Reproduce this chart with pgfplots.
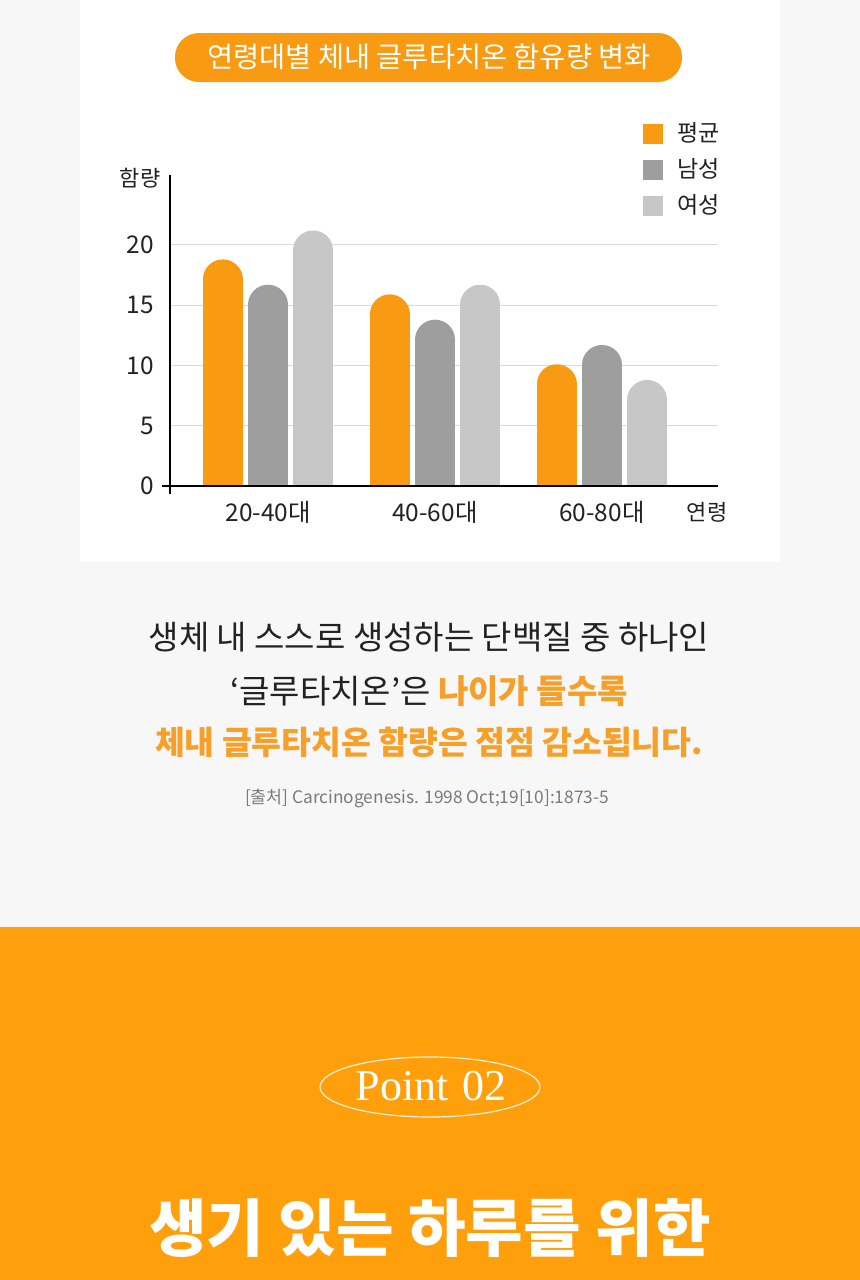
\documentclass[border=0pt]{standalone}
\usepackage{fontspec}
\setmainfont{Noto Sans CJK KR}
\newfontfamily\pointfont{Liberation Serif}
\usepackage{pgfplots}
\pgfplotsset{compat=1.18}
\usepackage{pgfplotstable}
\definecolor{bggray}{HTML}{F7F7F7}
\definecolor{barorange}{HTML}{F89A12}
\definecolor{bargray}{HTML}{9E9E9E}
\definecolor{barlight}{HTML}{C7C7C7}
\definecolor{gridgray}{HTML}{DADADA}
\definecolor{secorange}{HTML}{FF9F0B}
\definecolor{txtorange}{HTML}{F6A02A}
\definecolor{txtdark}{HTML}{222222}
\definecolor{citegray}{HTML}{7A7A7A}

\pgfplotstableread{
g v
0 18.8
1 15.9
2 10.1
}\avgdata
\pgfplotstableread{
g v
0 16.7
1 13.8
2 11.7
}\maledata
\pgfplotstableread{
g v
0 21.2
1 16.7
2 8.8
}\femaledata

\begin{document}
\begin{tikzpicture}
\begin{scope}[x=0.5pt,y=-0.5pt]
  \fill[bggray] (0,0) rectangle (860,1280);
  \fill[white] (80,0) rectangle (780,562);
  \fill[barorange, rounded corners=12pt] (175,33) rectangle (682,82);
  \node[text=white, font=\fontsize{14.2pt}{16pt}\selectfont] at (429,57) {연령대별 체내 글루타치온 함유량 변화};
  \node[text=txtdark, font=\fontsize{11pt}{13pt}\selectfont] at (140,178) {함량};
  \node[text=txtdark, font=\fontsize{11pt}{13pt}\selectfont] at (707,512) {연령};
  % body text
  \node[text=txtdark, font=\fontsize{16.5pt}{19pt}\selectfont] at (429,637) {생체 내 스스로 생성하는 단백질 중 하나인};
  \node[text=txtdark, font=\fontsize{16.5pt}{19pt}\selectfont] at (429,691) {‘글루타치온’은 {\bfseries\color{txtorange}나이가 들수록}};
  \node[text=txtorange, font=\bfseries\fontsize{16.2pt}{19pt}\selectfont] at (429,742) {체내 글루타치온 함량은 점점 감소됩니다.};
  \node[text=citegray, font=\fontsize{8.65pt}{10pt}\selectfont] at (427,798) {[출처] Carcinogenesis. 1998 Oct;19[10]:1873-5};
  % orange section
  \fill[secorange] (0,927) rectangle (860,1280);
  \draw[white, line width=0.6pt, opacity=0.85] (430,1087) ellipse [x radius=110, y radius=30];
  \node[text=white, font=\pointfont\fontsize{22pt}{25pt}\selectfont] at (431,1086) {Point\hspace{0.3em}02};
  \node[text=white, font=\bfseries\fontsize{31.3pt}{35pt}\selectfont] at (430,1228) {생기 있는 하루를 위한};
\end{scope}

\begin{axis}[
  at={(85pt,-243pt)}, anchor=south west,
  scale only axis, width=274pt, height=155.5pt,
  xmin=-0.587, xmax=2.695, ymin=0, ymax=25.8,
  axis line style={draw=none},
  xtick={0,1,2}, xticklabels={20-40대,40-60대,60-80대},
  ytick={0,5,10,15,20},
  major tick length=0pt,
  ymajorgrids, grid style={color=gridgray, line width=0.5pt},
  tick label style={font=\fontsize{12.2pt}{14pt}\selectfont, text=txtdark},
  xticklabel style={inner sep=0pt, yshift=-7.5pt},
  yticklabel style={inner sep=0pt, xshift=-8pt},
  /pgf/number format/assume math mode=true,
  clip=true,
  legend image code/.code={\fill[#1, draw=none] (0pt,-5pt) rectangle (10pt,5pt);
    \path[draw=none, fill=none] (17pt,0pt);},
  legend cell align=left,
  legend style={at={(0.863,1.17)}, anchor=north west, draw=none, fill=none,
    inner sep=0pt, row sep=7pt,
    font=\fontsize{11.5pt}{13pt}\selectfont, text=txtdark,
    nodes={inner sep=0pt}},
]
\addplot[ycomb, color=barorange, line width=20pt, line cap=round]
  table[x expr=\thisrow{g}-0.272, y expr=\thisrow{v}-1.66] {\avgdata};
\addplot[ycomb, color=bargray, line width=20pt, line cap=round]
  table[x expr=\thisrow{g}, y expr=\thisrow{v}-1.66] {\maledata};
\addplot[ycomb, color=barlight, line width=20pt, line cap=round]
  table[x expr=\thisrow{g}+0.272, y expr=\thisrow{v}-1.66] {\femaledata};
\legend{평균,남성,여성}
\end{axis}

\begin{scope}[x=0.5pt,y=-0.5pt]
  \draw[black, line width=1pt] (162,486) -- (718,486);
  \draw[black, line width=1pt] (170,175) -- (170,494);
\end{scope}
\pgfresetboundingbox
\useasboundingbox (0,0) rectangle (430pt,-640pt);
\end{tikzpicture}
\end{document}
